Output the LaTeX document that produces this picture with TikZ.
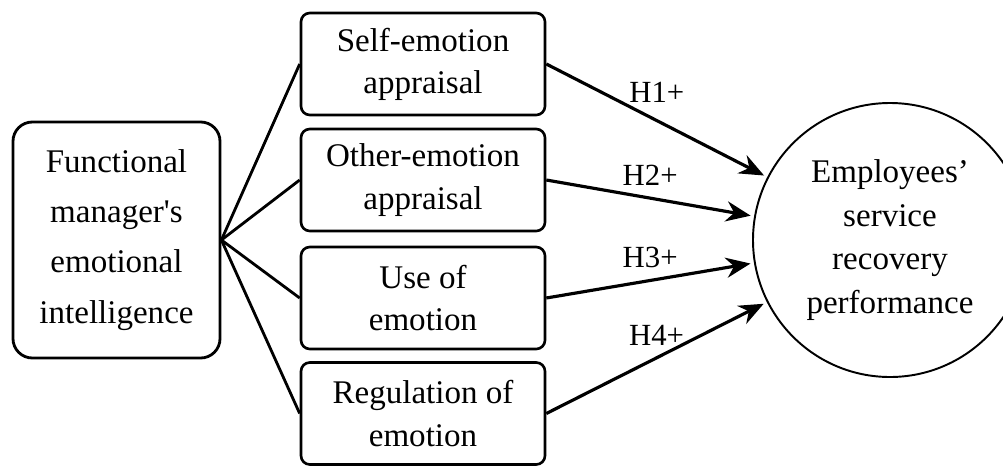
\documentclass[tikz,border=0pt]{standalone}
\usepackage{fontspec}
\setmainfont{Liberation Serif}[Ligatures=TeXOff]
\usetikzlibrary{arrows.meta,positioning}

\tikzset{
  leftbox/.style={draw, line width=1.6pt, rounded corners=11pt,
    minimum width=4.14cm, minimum height=4.72cm, inner sep=0pt,
    align=center, font=\fontsize{18.8}{28.5}\selectfont},
  dimbox/.style={draw, line width=1.5pt, rounded corners=5pt,
    minimum width=4.88cm, minimum height=2.04cm, inner sep=0pt,
    align=center, font=\fontsize{18.8}{24}\selectfont},
  outcome/.style={draw, circle, line width=1.1pt, minimum size=5.48cm,
    inner sep=0pt, align=center, font=\fontsize{18.8}{24.7}\selectfont},
  hyplabel/.style={font=\fontsize{17.5}{20}\selectfont, above, yshift=3pt},
  fan/.style={line width=1.6pt},
  effect/.style={line width=1.8pt, -{Stealth[length=14pt,width=11.5pt]},
    shorten >=2pt}
}

\begin{document}
\begin{tikzpicture}

  % Frame of the picture
  \path[use as bounding box, clip] (0,0) rectangle (20.06,-9.32);

  % Independent variable
  \node[leftbox] (fmei) at (2.33,-4.80)
    {Functional\\manager's\\emotional\\intelligence};

  % Dimensions of emotional intelligence
  \node[dimbox] (sea) at (8.46,-1.28) {Self-emotion\\appraisal};
  \node[dimbox] (oea) at (8.46,-3.60) {Other-emotion\\appraisal};
  \node[dimbox] (uoe) at (8.46,-5.96) {Use of\\emotion};
  \node[dimbox] (roe) at (8.46,-8.27) {Regulation of\\emotion};

  % Dependent variable
  \node[outcome] (esrp) at (17.80,-4.80)
    {Employees’\\service\\recovery\\performance};

  % Fan from the left box
  \foreach \dim in {sea,oea,uoe,roe}
    \draw[fan] (fmei.east) -- (\dim.west);

  % Hypotheses
  \draw[effect] (sea.east) -- node[hyplabel, yshift=3pt] {H1+} (esrp);
  \draw[effect] (oea.east) -- node[hyplabel] {H2+} (esrp);
  \draw[effect] (uoe.east) -- node[hyplabel] {H3+} (esrp);
  \draw[effect] (roe.east) -- node[hyplabel] {H4+} (esrp);

\end{tikzpicture}
\end{document}
